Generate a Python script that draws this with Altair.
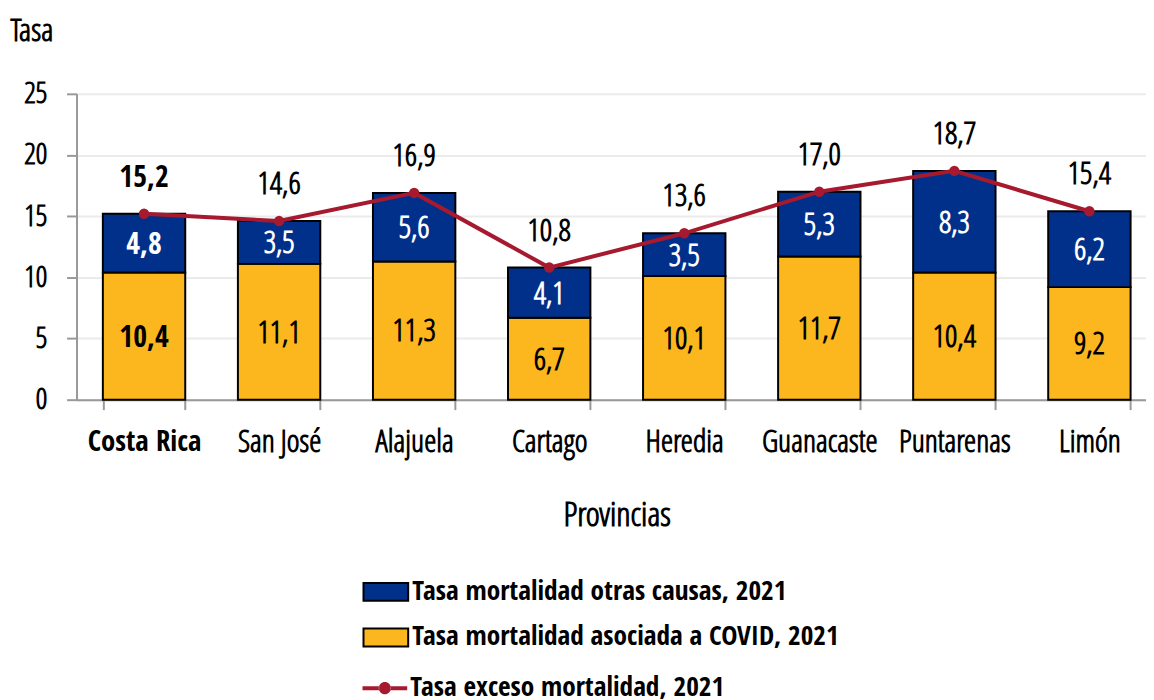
import altair as alt
import pandas as pd

provincias = ["Costa Rica", "San José", "Alajuela", "Cartago", "Heredia",
              "Guanacaste", "Puntarenas", "Limón"]
covid = [10.4, 11.1, 11.3, 6.7, 10.1, 11.7, 10.4, 9.2]
otras = [4.8, 3.5, 5.6, 4.1, 3.5, 5.3, 8.3, 6.2]
exceso = [15.2, 14.6, 16.9, 10.8, 13.6, 17.0, 18.7, 15.4]

S_OTRAS = "Tasa mortalidad otras causas, 2021"
S_COVID = "Tasa mortalidad asociada a COVID, 2021"
S_EXC = "Tasa exceso mortalidad, 2021"

BLUE = "#00308A"
YELLOW = "#FDB71E"
RED = "#A6192E"
FONT_N = "Open Sans Condensed Light"
FONT_B = "Open Sans Condensed"
FS = 31
FSB = 30


def fmt(v):
    return f"{v:.1f}".replace(".", ",")


rows = []
for p, c, o in zip(provincias, covid, otras):
    rows.append(dict(prov=p, serie=S_COVID, y0=0.0, y1=c, mid=c / 2, lab=fmt(c)))
    rows.append(dict(prov=p, serie=S_OTRAS, y0=c, y1=c + o, mid=c + o / 2, lab=fmt(o)))
bars_df = pd.DataFrame(rows)
line_df = pd.DataFrame(dict(prov=provincias, exceso=exceso,
                            lab=[fmt(v) for v in exceso],
                            serie=[S_EXC] * len(provincias)))

is_cr = "datum.value == 'Costa Rica'"
xscale = alt.Scale(domain=provincias, range=[0, 1088],
                   paddingInner=0.39, paddingOuter=0.195)
x = alt.X("prov:N", sort=provincias, scale=xscale,
          axis=alt.Axis(title="Provincias", labelAngle=0, tickBand="extent",
                        labelFont={"condition": {"test": is_cr, "value": FONT_B}, "value": FONT_N},
                        labelFontSize={"condition": {"test": is_cr, "value": 29}, "value": FS},
                        labelFontWeight="bold",
                        labelPadding=18, tickSize=10, titleX=544, titleY=117,
                        titleBaseline="middle", titleFontSize=34))
yscale = alt.Scale(domain=[0, 25], nice=False)

rect_path = "M-1,-0.4 L1,-0.4 L1,0.4 L-1,0.4 Z"
line_path = ("M-1,-0.09 L-0.255,-0.09 L-0.255,0.09 L-1,0.09 Z "
             "M0.255,-0.09 L1,-0.09 L1,0.09 L0.255,0.09 Z "
             "M-0.27,0 A0.27,0.27 0 1,0 0.27,0 A0.27,0.27 0 1,0 -0.27,0 Z")

bars = alt.Chart(bars_df).mark_bar(stroke="black", strokeWidth=2).encode(
    x=x,
    y=alt.Y("y1:Q", scale=yscale,
            axis=alt.Axis(title="Tasa", values=[0, 5, 10, 15, 20, 25], grid=True,
                          tickSize=10, labelPadding=20, labelFontSize=29,
                          titleAngle=0, titleAlign="left",
                          titleX=-67, titleY=-64, titleBaseline="middle",
                          titleFontSize=32)),
    y2="y0:Q",
    color=alt.Color("serie:N",
                    scale=alt.Scale(domain=[S_OTRAS, S_COVID], range=[BLUE, YELLOW]),
                    legend=alt.Legend(title=None, orient="none", legendX=288, legendY=478,
                                      symbolType=rect_path, symbolSize=2025,
                                      symbolStrokeColor="black", symbolStrokeWidth=2,
                                      symbolOpacity=1, labelOffset=3, rowPadding=9,
                                      padding=0, labelFontSize=27.5, labelFontWeight="bold",
                                      labelFont=FONT_B, labelColor="black", labelLimit=700)),
)

seg_base = alt.Chart(bars_df).encode(
    x=alt.X("prov:N", sort=provincias),
    y=alt.Y("mid:Q"),
    text="lab:N",
    color=alt.condition(alt.datum.serie == S_OTRAS, alt.value("white"), alt.value("black")),
)
seg_norm = seg_base.mark_text(fontSize=FS, font=FONT_N, fontWeight="bold", baseline="middle",
                              dy=2).transform_filter(alt.datum.prov != "Costa Rica")
seg_bold = seg_base.mark_text(fontSize=FSB, font=FONT_B, fontWeight="bold", baseline="middle",
                              dy=2).transform_filter(alt.datum.prov == "Costa Rica")

line = alt.Chart(line_df).mark_line(strokeWidth=4).encode(
    x=alt.X("prov:N", sort=provincias),
    y=alt.Y("exceso:Q"),
    stroke=alt.Stroke("serie:N", scale=alt.Scale(domain=[S_EXC], range=[RED]),
                      legend=alt.Legend(title=None, orient="none", legendX=288, legendY=576,
                                        symbolType=line_path, symbolSize=2025,
                                        symbolFillColor=RED, symbolStrokeWidth=0,
                                        labelOffset=3, padding=0, labelFontSize=27.5,
                                        labelFontWeight="bold", labelFont=FONT_B,
                                        labelColor="black", labelLimit=700)),
)
points = alt.Chart(line_df).mark_point(filled=True, size=110, color=RED, opacity=1).encode(
    x=alt.X("prov:N", sort=provincias),
    y=alt.Y("exceso:Q"),
)

tot_base = alt.Chart(line_df).encode(
    x=alt.X("prov:N", sort=provincias),
    y=alt.Y("exceso:Q"),
    text="lab:N",
)
tot_norm = tot_base.mark_text(fontSize=FS, font=FONT_N, fontWeight="bold", dy=-36,
                              baseline="middle", color="black").transform_filter(
    alt.datum.prov != "Costa Rica")
tot_bold = tot_base.mark_text(fontSize=FSB, font=FONT_B, fontWeight="bold", dy=-36,
                              baseline="middle", color="black").transform_filter(
    alt.datum.prov == "Costa Rica")

chart = alt.layer(bars, line, points, seg_norm, seg_bold, tot_norm, tot_bold).resolve_scale(
    color="independent"
).properties(
    width=1077, height=308,
    autosize=alt.AutoSizeParams(type="none"),
    padding={"left": 69, "top": 84, "right": 0, "bottom": 300},
).configure_view(stroke=None).configure_axis(
    labelFont=FONT_N, titleFont=FONT_N, labelFontWeight="bold", titleFontWeight="bold",
    labelColor="black", titleColor="black",
    domainColor="#999999", domainWidth=2, tickColor="#999999", tickWidth=2,
    gridColor="#ebebeb", gridWidth=2,
).configure_axisX(grid=False)

chart.save("out.html", embed_options={"renderer": "svg", "actions": False})
